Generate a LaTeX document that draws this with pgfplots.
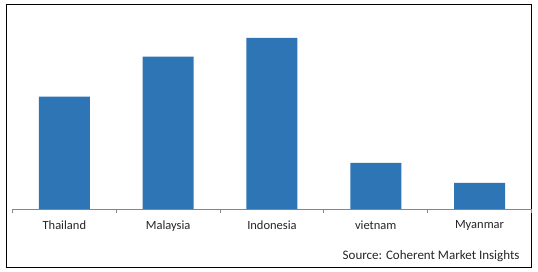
\documentclass[border=0pt]{standalone}
\usepackage{pgfplots}
\pgfplotsset{compat=1.18}
\usepackage{fontspec}
\setmainfont{Carlito}
\definecolor{barblue}{RGB}{46,117,182}
\definecolor{axgray}{RGB}{134,134,134}
\begin{document}
\begin{tikzpicture}[x=1pt,y=1pt]
\path[use as bounding box] (0,0) rectangle (538,272);
\fill[white] (0,0) rectangle (538,272);
\draw[black, line width=1pt] (6.5,4.5) rectangle (531.5,267.5);
\begin{axis}[
  at={(12,63)}, anchor=south west,
  scale only axis, width=519pt, height=200pt,
  xmin=-0.5, xmax=4.5, ymin=0, ymax=200,
  axis x line*=bottom, axis y line=none,
  x axis line style={axgray, line width=0.8pt, -},
  xtick={-0.5,0.5,1.5,2.5,3.5,4.5},
  x tick label as interval,
  xticklabels={Thailand,Malaysia,Indonesia,vietnam,Myanmar},
  tick style={axgray, line width=0.8pt},
  major tick length=4pt, tick align=outside, xtick pos=bottom,
  xticklabel style={font=\fontsize{12.5}{14}\selectfont, text=black!85, yshift=-4pt},
  ytick=\empty,
  clip=false,
]
\addplot[ybar, bar width=51pt, fill=barblue, draw=none] coordinates {(0,112.3) (1,152.3) (2,171) (3,46) (4,26)};
\end{axis}
\node[anchor=base east, font=\fontsize{13}{15}\selectfont, text=black!85] at (523,12) {Source: Coherent Market Insights};
\end{tikzpicture}
\end{document}
